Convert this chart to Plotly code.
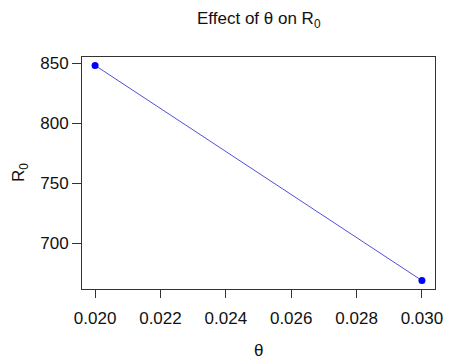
import plotly.graph_objects as go

theta = [0.020, 0.030]
r0 = [848, 669]
x_ticks = [0.020, 0.022, 0.024, 0.026, 0.028, 0.030]
x_tick_labels = ["0.020", "0.022", "0.024", "0.026", "0.028", "0.030"]
y_ticks = [700, 750, 800, 850]
y_tick_labels = ["700", "750", "800", "850"]

FONT = "Liberation Sans, Arial, Helvetica, sans-serif"

fig = go.Figure()
fig.add_trace(go.Scatter(
    x=theta, y=r0, mode="lines+markers",
    line=dict(color="rgb(80,80,215)", width=1),
    marker=dict(color="rgb(0,0,255)", size=7),
    showlegend=False,
))

fig.update_layout(
    width=455, height=361,
    margin=dict(l=82, r=12, t=57, b=72),
    paper_bgcolor="white", plot_bgcolor="white",
    font=dict(family=FONT, size=17, color="#111"),
    xaxis=dict(
        range=[0.0196, 0.0304], tickvals=x_ticks, ticktext=x_tick_labels,
        showgrid=False, zeroline=False,
        showline=True, linecolor="#333", linewidth=1, mirror=True,
        ticks="outside", ticklen=8, tickcolor="#333", tickwidth=1,
        ticklabelstandoff=6,
    ),
    yaxis=dict(
        range=[662, 855], tickvals=y_ticks, ticktext=y_tick_labels,
        showgrid=False, zeroline=False,
        showline=True, linecolor="#333", linewidth=1, mirror=True,
        ticks="outside", ticklen=9, tickcolor="#333", tickwidth=1,
    ),
    annotations=[
        dict(text="Effect of θ on R<sub>0</sub>", xref="paper", yref="paper",
             x=0.5, y=1, yshift=37, showarrow=False, font=dict(size=17),
             xanchor="center", yanchor="middle"),
        dict(text="θ", xref="paper", yref="paper", x=0.5, y=0, yshift=-61,
             showarrow=False, xanchor="center", yanchor="middle", font=dict(size=17)),
        dict(text="R<sub>0</sub>", xref="paper", yref="paper", x=0, xshift=-62, y=0.5,
             textangle=-90, showarrow=False, xanchor="center", yanchor="middle",
             font=dict(size=17)),
    ],
)

fig.write_html(
    "out.html",
    config={"displayModeBar": False},
    post_script="document.body.style.margin='0';document.body.style.overflow='hidden';",
)
